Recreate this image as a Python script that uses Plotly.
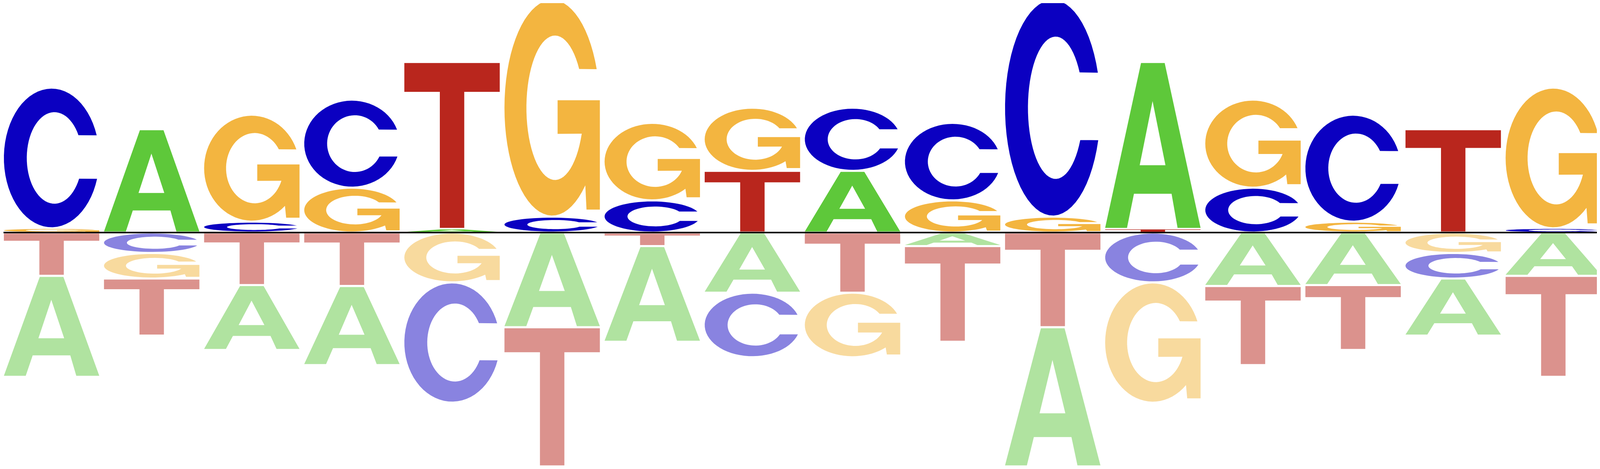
import numpy as np
import plotly.graph_objects as go

# 16 columns, heights above (enriched) and below (depleted) the baseline
positions = list(range(1, 17))

pos_A = [0, 0.885, 0, 0, 0.031, 0, 0, 0, 0.528, 0, 0, 1.429, 0, 0, 0, 0]
pos_C = [1.205, 0, 0.093, 0.754, 0, 0.136, 0.275, 0, 0.541, 0.664, 1.864, 0, 0.384, 0.916, 0, 0.036]
pos_G = [0.036, 0, 0.916, 0.384, 0, 1.864, 0.664, 0.541, 0, 0.275, 0.136, 0, 0.754, 0.093, 0, 1.205]
pos_T = [0, 0, 0, 0, 1.429, 0, 0, 0.528, 0, 0, 0, 0.031, 0, 0, 0.885, 0]

neg_A = [0.865, 0, 0.556, 0.677, 0, 0.811, 0.819, 0.515, 0, 0.116, 1.192, 0, 0.458, 0.450, 0.489, 0.371]
neg_C = [0, 0.175, 0, 0, 1.030, 0, 0, 0.553, 0, 0, 0, 0.427, 0, 0, 0.219, 0]
neg_G = [0, 0.219, 0, 0, 0.427, 0, 0, 0, 0.553, 0, 0, 1.030, 0, 0, 0.175, 0]
neg_T = [0.371, 0.489, 0.450, 0.458, 0, 1.192, 0.116, 0, 0.515, 0.819, 0.811, 0, 0.677, 0.556, 0, 0.865]

colors_pos = {"A": "#5ec83a", "C": "#0b00c1", "G": "#f3b540", "T": "#b9261d"}
colors_neg = {"A": "#b0e3a0", "C": "#8983e0", "G": "#f8da9e", "T": "#db928d"}


def arc(cx, cy, rx, ry, a0, a1, n=60):
    t = np.radians(np.linspace(a0, a1, n))
    return list(zip(cx + rx * np.cos(t), cy + ry * np.sin(t)))


# letter outlines in a unit box
def glyph(letter):
    if letter == "A":
        outer = [(0, 0), (0.376, 1), (0.624, 1), (1, 0), (0.759, 0),
                 (0.696, 0.207), (0.302, 0.207), (0.229, 0)]
        hole = [(0.362, 0.38), (0.632, 0.38), (0.497, 0.769)]
        return [outer, hole]
    if letter == "C":
        pts = arc(0.5, 0.5, 0.5, 0.5, 19, 342.5) + arc(0.53, 0.5, 0.29, 0.33, 333, 29.8)
        return [pts]
    if letter == "G":
        pts = arc(0.5, 0.5, 0.5, 0.5, 21, 314)
        pts += [(0.86, 0.028), (1.0, 0.028), (1.0, 0.535), (0.557, 0.535), (0.557, 0.379)]
        pts += arc(0.53, 0.5, 0.30, 0.335, 339, 32.5)
        return [pts]
    return [[(0, 1), (1, 1), (1, 0.825), (0.628, 0.825), (0.628, 0),
             (0.372, 0), (0.372, 0.825), (0, 0.825)]]


def letter_path(letter, xc, y0, y1, w=0.953):
    parts = []
    for contour in glyph(letter):
        s = " L ".join(f"{xc - w / 2 + u * w:.5f},{y0 + v * (y1 - y0):.5f}" for u, v in contour)
        parts.append("M " + s + " Z")
    return " ".join(parts)


pos_data = {"A": pos_A, "C": pos_C, "G": pos_G, "T": pos_T}
neg_data = {"A": neg_A, "C": neg_C, "G": neg_G, "T": neg_T}

fig = go.Figure()
shapes = []

for i, x in enumerate(positions):
    # above the line: smallest next to the baseline
    stack = sorted([(pos_data[k][i], k) for k in "ACGT" if pos_data[k][i] > 0])
    y = 0
    for h, k in stack:
        pad = min(0.009, 0.15 * h)
        shapes.append(dict(type="path", xref="x", yref="y", layer="below",
                           path=letter_path(k, x, y + pad, y + h - pad),
                           fillcolor=colors_pos[k], line=dict(width=0)))
        y += h
    # below the line
    stack = sorted([(neg_data[k][i], k) for k in "ACGT" if neg_data[k][i] > 0])
    y = 0
    for h, k in stack:
        pad = min(0.009, 0.15 * h)
        shapes.append(dict(type="path", xref="x", yref="y", layer="below",
                           path=letter_path(k, x, y - h + pad, y - pad),
                           fillcolor=colors_neg[k], line=dict(width=0)))
        y -= h

# baseline
fig.add_trace(go.Scatter(x=[0.52, 16.5], y=[0, 0], mode="lines",
                         line=dict(color="black", width=4), hoverinfo="skip",
                         showlegend=False))

# width follows the browser window, height fits inside it
fig.update_layout(
    autosize=True, height=1184,
    margin=dict(l=0, r=0, t=0, b=0),
    paper_bgcolor="white", plot_bgcolor="white",
    shapes=shapes,
    showlegend=False,
    xaxis=dict(range=[0.516, 16.435], visible=False, fixedrange=True),
    yaxis=dict(range=[-1.998, 1.964], visible=False, fixedrange=True),
)

fig.write_html("out.html")
